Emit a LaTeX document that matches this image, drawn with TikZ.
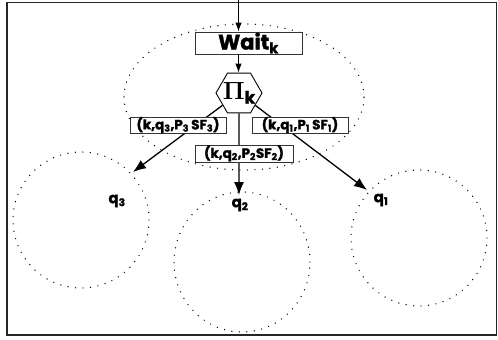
\documentclass[tikz,border=0pt]{standalone}
\usepackage{fontspec}
\setsansfont{Poppins}[BoldFeatures={FakeBold=1.6}]
\usetikzlibrary{positioning}
\usetikzlibrary{shapes.geometric,arrows.meta}
\pgfkeys{tikz/statebox/.style={draw=black!80,fill=white,line width=0.9pt,inner sep=0pt,font=\sffamily\bfseries}}
\pgfkeys{tikz/dotring/.style={line width=1.4pt,dash pattern=on 0pt off 7.5pt,line cap=round}}
\pgfkeys{tikz/flow/.style={line width=1.3pt,-{Latex[length=13pt,width=10pt]}}}
\pgfkeys{tikz/feed/.style={line width=1pt,-{Latex[length=9pt,width=6.5pt]}}}
\newcommand\labfont{\sffamily\bfseries\fontsize{13.5}{14}\selectfont}

\begin{document}
\begin{tikzpicture}[x=1pt,y=-1pt]
    \useasboundingbox (0,0) rectangle (498,340);
    \draw[line width=1.6pt,black!85] (7,2.5) rectangle (496.5,335);

    % zones
    \draw[dotring] (244,97) ellipse [x radius=120pt,y radius=73pt];
    \draw[dotring] (81,220) circle [radius=68pt];
    \draw[dotring] (242,262) ellipse [x radius=68pt,y radius=70pt];
    \draw[dotring] (419,238) circle [radius=68pt];

    \coordinate (in) at (238.5,0);
    \node[statebox,minimum width=107pt,minimum height=22pt,font=\sffamily\bfseries\fontsize{21}{21}\selectfont] (wait) at (248.5,43) {Wait\textsubscript{k}};
    \node[draw,regular polygon,regular polygon sides=6,minimum size=46pt,inner sep=-4pt,line width=0.9pt,fill=white] (pik) at (239,93) {\fontsize{25}{25}\selectfont{\boldmath$\Pi$}\raisebox{-4pt}{\sffamily\bfseries\fontsize{17}{17}\selectfont k}};

    \draw[feed] (in) -- (in |- wait.north);
    \draw[feed] (in |- wait.south) -- (in |- pik.north);

    \coordinate (t3) at (133,172);
    \coordinate (t2) at (239,195);
    \coordinate (t1) at (367,190);
    \draw[flow] (pik) -- (t3);
    \draw[flow] (pik.south) -- (t2);
    \draw[flow] (pik) -- (t1);

    \node[statebox,minimum width=96pt,minimum height=16pt,font=\labfont] (lab3) at (178,125) {(k,q\textsubscript{3},P\textsubscript{3}\,SF\textsubscript{3})};
    \node[statebox,minimum width=96pt,minimum height=16pt,font=\labfont] (lab1) at (300,125) {(k,q\textsubscript{1},P\textsubscript{1}\,SF\textsubscript{1})};
    \node[statebox,minimum width=98pt,minimum height=17pt,font=\labfont] (lab2) at (244,153.5) {(k,q\textsubscript{2},P\textsubscript{2}SF\textsubscript{2})};

    \node[font=\labfont\fontsize{15}{15}\selectfont] (q3) at (117,201) {q\textsubscript{3}};
    \node[font=\labfont\fontsize{15}{15}\selectfont] (q2) at (240,205) {q\textsubscript{2}};
    \node[font=\labfont\fontsize{15}{15}\selectfont] (q1) at (381,200) {q\textsubscript{1}};
\end{tikzpicture}
\end{document}
